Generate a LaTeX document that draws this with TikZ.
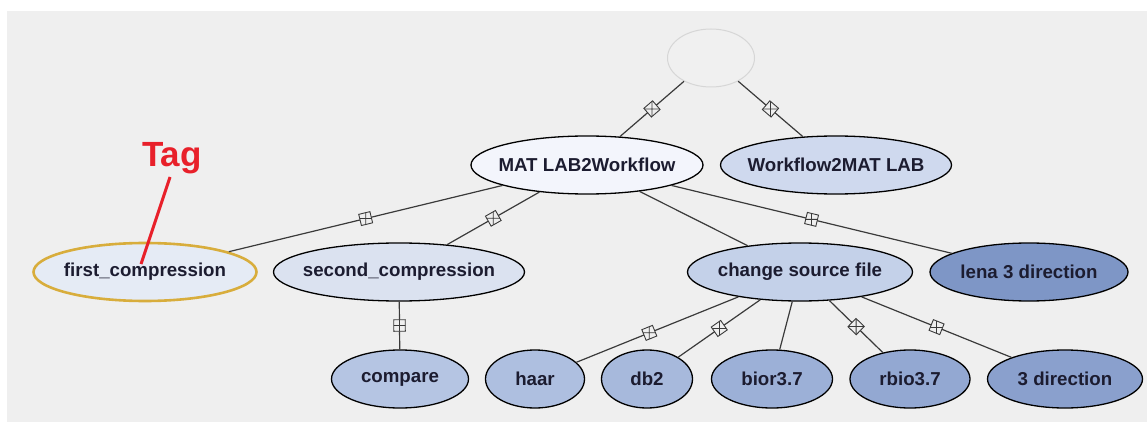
\documentclass[tikz,border=0pt]{standalone}
\usepackage{fontspec}
\setmainfont{Liberation Sans}
\usetikzlibrary{shapes.geometric}
\definecolor{bgc}{HTML}{EFEFEF}
\definecolor{edgec}{HTML}{3A3A3A}
\definecolor{txtc}{HTML}{1C1C30}
\definecolor{cRoot}{HTML}{F0F0F0}
\definecolor{cRootB}{HTML}{D6D6D6}
\definecolor{cMW}{HTML}{F3F5FC}
\definecolor{cWM}{HTML}{CFD9EE}
\definecolor{cFirst}{HTML}{E5EBF5}
\definecolor{cGold}{HTML}{D8AD3C}
\definecolor{cSecond}{HTML}{DBE2F0}
\definecolor{cCSF}{HTML}{C4D1E9}
\definecolor{cLena}{HTML}{7E96C6}
\definecolor{cCompare}{HTML}{B5C5E3}
\definecolor{cHaar}{HTML}{AEBFE0}
\definecolor{cDb}{HTML}{A7B9DC}
\definecolor{cBior}{HTML}{9CB0D7}
\definecolor{cRbio}{HTML}{93A8D2}
\definecolor{cThree}{HTML}{8AA0CD}
\definecolor{tagred}{HTML}{E8202A}
\newcommand{\lbl}[1]{\raisebox{-2pt}{\makebox[0pt][c]{#1}}}
\tikzset{
  ell/.style={ellipse, draw=black, line width=1.3pt, inner sep=0pt, text=txtc,
    font=\fontsize{18.7}{22}\selectfont\bfseries, minimum height=58pt},
  conn/.style={draw=edgec, line width=1.2pt},
  mk/.style={rectangle, draw=edgec, fill=bgc, line width=0.9pt, minimum size=11.5pt, inner sep=0pt, sloped,
    path picture={\draw[edgec, line width=0.8pt] (path picture bounding box.north) -- (path picture bounding box.south)
      (path picture bounding box.west) -- (path picture bounding box.east);}},
}
\begin{document}
\begin{tikzpicture}[x=1pt,y=-1pt]
\useasboundingbox (0,0) rectangle (1147,422);
\fill[bgc] (7,11) rectangle (1147,422);
% nodes
\node[ellipse, draw=cRootB, fill=cRoot, line width=1pt, minimum width=87pt, minimum height=58pt] (root) at (711,58) {};
\node[ell, fill=cMW, minimum width=232pt] (mw) at (587,165) {\lbl{MAT LAB2Workflow}};
\node[ell, fill=cWM, minimum width=231pt] (wm) at (836,165) {\lbl{Workflow2MAT LAB}};
\node[ell, draw=cGold, line width=2.6pt, fill=cFirst, minimum width=223pt] (first) at (145,272) {\lbl{first\_compression}};
\node[ell, fill=cSecond, minimum width=251pt] (second) at (399,272) {\lbl{second\_compression}};
\node[ell, fill=cCSF, minimum width=225pt] (csf) at (800,272) {\lbl{change source file}};
\node[ell, fill=cLena, minimum width=198pt] (lena) at (1029,272) {\lbl{lena 3 direction}};
\node[ell, fill=cCompare, minimum width=137pt] (compare) at (400,379) {\lbl{compare}};
\node[ell, fill=cHaar, minimum width=99pt] (haar) at (535,379) {\lbl{haar}};
\node[ell, fill=cDb, minimum width=91pt] (db) at (647,379) {\lbl{db2}};
\node[ell, fill=cBior, minimum width=121pt] (bior) at (772,379) {\lbl{bior3.7}};
\node[ell, fill=cRbio, minimum width=120pt] (rbio) at (910,379) {\lbl{rbio3.7}};
\node[ell, fill=cThree, minimum width=155pt] (three) at (1065,379) {\lbl{3 direction}};
% connectors
\path[conn] (root) -- node[mk] {} (mw);
\path[conn] (root) -- node[mk] {} (wm);
\path[conn] (mw) -- node[mk] {} (first);
\path[conn] (mw) -- node[mk] {} (second);
\path[conn] (mw) -- (csf);
\path[conn] (mw) -- node[mk] {} (lena);
\path[conn] (second) -- node[mk] {} (compare);
\path[conn] (csf) -- node[mk, pos=0.55] {} (haar);
\path[conn] (csf) -- node[mk] {} (db);
\path[conn] (csf) -- (bior);
\path[conn] (csf) -- node[mk] {} (rbio);
\path[conn] (csf) -- node[mk] {} (three);
% tag
\node[text=tagred, font=\fontsize{35}{40}\selectfont\bfseries, inner sep=0pt] (tag) at (172,158) {Tag};
\coordinate (tagend) at (141,264);
\draw[tagred, line width=3pt] (170,177) -- (tagend);
\end{tikzpicture}
\end{document}
